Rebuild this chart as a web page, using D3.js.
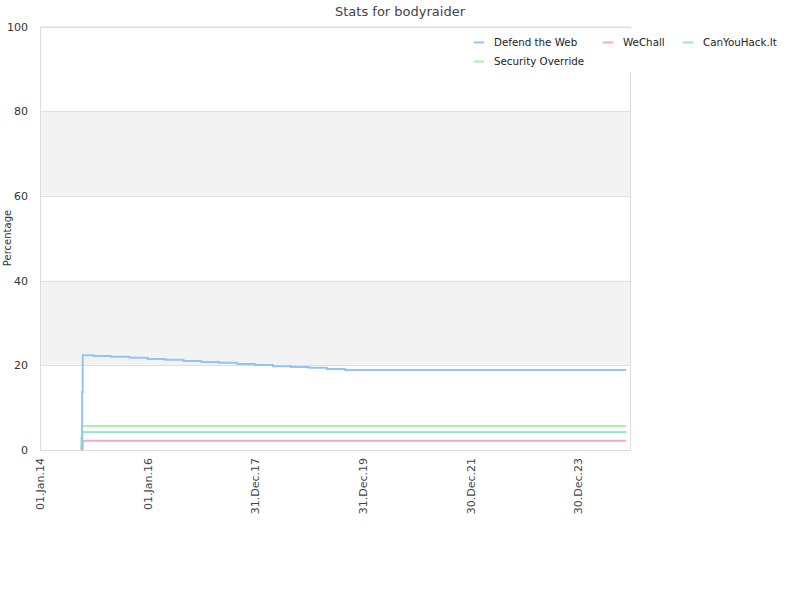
<!DOCTYPE html>
<html><head><meta charset="utf-8">
<script src="https://cdn.jsdelivr.net/npm/d3@7"></script>
<style>body{margin:0;background:#fff}svg{display:block}text{font-family:"DejaVu Sans",sans-serif}</style>
</head><body><svg id="c" width="800" height="600"></svg>
<script>
const title = "Stats for bodyraider";
const yTitle = "Percentage";
const yTicks = [0, 20, 40, 60, 80, 100];
const xTickDates = ["2014-01-01","2016-01-01","2017-12-31","2019-12-31","2021-12-30","2023-12-30"];
const xTickLabels = ["01.Jan.14","01.Jan.16","31.Dec.17","31.Dec.19","30.Dec.21","30.Dec.23"];
const seriesNames = ["Defend the Web","WeChall","CanYouHack.It","Security Override"];
const seriesColors = ["#96c4f2","#f5a8cf","#98e8cb","#acf0a8"];
const defendDates = ["2014-10-12","2014-10-14","2014-10-18","2015-01-01","2015-05-01","2015-09-01","2016-01-01","2016-05-01","2016-09-01","2017-01-01","2017-05-01","2017-09-01","2018-01-01","2018-05-01","2018-09-01","2019-01-01","2019-05-01","2019-09-01","2024-11-22"];
const defendValues = [1.0, 13.7, 22.4, 22.2, 22.0, 21.8, 21.5, 21.3, 21.0, 20.8, 20.6, 20.3, 20.1, 19.8, 19.6, 19.4, 19.1, 18.9, 18.9];
const wechallDates = ["2014-10-14","2014-10-18","2024-11-22"];
const wechallValues = [0.2, 2.2, 2.2];
const cyhDates = ["2014-10-11","2014-10-14","2024-11-22"];
const cyhValues = [3.0, 4.25, 4.25];
const soDates = ["2014-10-10","2014-10-13","2024-11-22"];
const soValues = [2.8, 5.67, 5.67];

const parse = d3.timeParse("%Y-%m-%d");
const svg = d3.select("#c");
const L = 40, R = 630, T = 26.5, B = 450;
const x = d3.scaleTime().domain([parse("2014-01-01"), parse("2024-12-18")]).range([L, R]);
const y = d3.scaleLinear().domain([0, 100]).range([B, T]);

// bands
for (let i = 0; i < yTicks.length - 1; i++) {
  if (i % 2 === 1) svg.append("rect").attr("x", L).attr("width", R - L)
    .attr("y", y(yTicks[i+1])).attr("height", y(yTicks[i]) - y(yTicks[i+1])).attr("fill", "#f3f3f3");
}
// grid
svg.append("g").selectAll("line").data(yTicks).join("line")
  .attr("x1", L).attr("x2", R).attr("y1", d => Math.round(y(d)) + 0.5).attr("y2", d => Math.round(y(d)) + 0.5)
  .attr("stroke", "#e0e0e0");
// border
svg.append("rect").attr("x", L + 0.5).attr("y", T + 0.5).attr("width", R - L).attr("height", B - T)
  .attr("fill", "none").attr("stroke", "#dcdcdc");

// y axis
const ya = d3.axisLeft(y).tickValues(yTicks).tickSize(0).tickPadding(12);
const yg = svg.append("g").attr("transform", `translate(${L},0)`).call(ya);
yg.select(".domain").remove();
yg.selectAll("text").attr("font-size", 11).attr("fill", "#333").attr("font-family", "DejaVu Sans");

// x axis
const xa = d3.axisBottom(x).tickValues(xTickDates.map(parse)).tickFormat((d, i) => xTickLabels[i]).tickSize(0);
const xg = svg.append("g").attr("transform", `translate(0,${B})`).call(xa);
xg.select(".domain").remove();
xg.selectAll("text").attr("font-size", 11).attr("fill", "#444").attr("font-family", "DejaVu Sans")
  .attr("transform", "rotate(-90)").attr("text-anchor", "end").attr("dx", "-8").attr("dy", "0.35em").attr("x", 0).attr("y", 0);

// lines
const line = d3.line().x(d => x(d[0])).y(d => y(d[1])).curve(d3.curveStepAfter);
const all = [
  [defendDates, defendValues, 0],
  [wechallDates, wechallValues, 1],
  [cyhDates, cyhValues, 2],
  [soDates, soValues, 3]
];
[3, 2, 1, 0].forEach(k => {
  const s = all[k];
  const pts = s[0].map((d, i) => [parse(d), s[1][i]]);
  pts.unshift([pts[0][0], 0]);
  svg.append("path").datum(pts).attr("d", line).attr("fill", "none")
    .attr("stroke", seriesColors[s[2]]).attr("stroke-width", 2);
});

// legend
svg.append("rect").attr("x", 466).attr("y", 29).attr("width", 324).attr("height", 43).attr("fill", "#fff");
const legendPos = [[474, 42], [603, 42], [683, 42], [474, 61]];
seriesNames.forEach((n, i) => {
  const [lx, ly] = legendPos[i];
  svg.append("line").attr("x1", lx).attr("x2", lx + 10).attr("y1", ly + 0.5).attr("y2", ly + 0.5)
    .attr("stroke", seriesColors[i]).attr("stroke-width", 2);
  svg.append("text").attr("x", lx + 20).attr("y", ly).attr("dy", "0.35em").attr("font-size", 10.3)
    .attr("fill", "#222").text(n);
});

// titles
svg.append("text").attr("x", 400).attr("y", 16).attr("text-anchor", "middle").attr("font-size", 13)
  .attr("fill", "#444").text(title);
svg.append("text").attr("transform", "translate(11,238) rotate(-90)").attr("text-anchor", "middle")
  .attr("font-size", 10).attr("fill", "#333").text(yTitle);
</script></body></html>
